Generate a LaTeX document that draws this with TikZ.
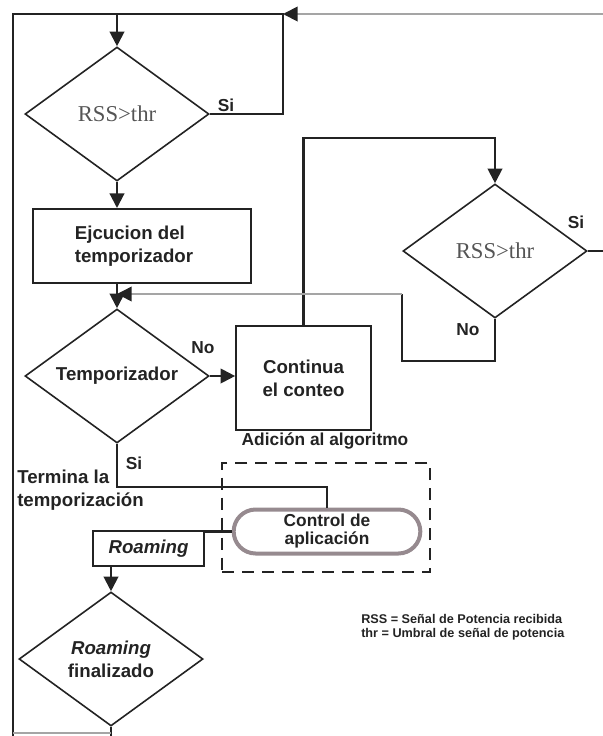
\documentclass[tikz,border=0pt]{standalone}
\usepackage{fontspec}
\setmainfont{Liberation Sans}
\newfontfamily\serifrss{Liberation Serif}
\usetikzlibrary{positioning, shapes.geometric, shapes.misc, arrows.meta}
\definecolor{inkdark}{RGB}{35,35,35}
\definecolor{linegray}{RGB}{165,165,165}
\definecolor{rssgray}{RGB}{85,85,85}
\definecolor{ovalrim}{RGB}{150,138,143}
\tikzset{
  conn/.style={draw=inkdark, line width=1.6pt},
  grayconn/.style={draw=linegray, line width=1.4pt},
  arr/.style={-{Triangle[length=11pt, width=11pt, color=inkdark]}},
  decis/.style={diamond, draw=inkdark, line width=1.2pt, aspect=1.37,
    minimum width=138pt, minimum height=100.5pt, inner sep=1pt, align=center},
  procbox/.style={draw=inkdark, line width=1.5pt, align=center},
  ctrlpill/.style={rounded rectangle, draw=ovalrim, line width=3pt, fill=white,
    minimum width=140pt, minimum height=33pt, inner sep=0pt, align=center},
  dashbox/.style={draw=inkdark, line width=1.5pt, dash pattern=on 9pt off 6pt},
  txt/.style={font=\fontsize{14}{17}\selectfont\bfseries, text=inkdark},
  rsstxt/.style={font=\serifrss\fontsize{17}{20}\selectfont, text=rssgray},
  branchlbl/.style={font=\fontsize{13}{15}\selectfont\bfseries, text=inkdark, inner sep=1pt},
}

\begin{document}
\begin{tikzpicture}[x=0.75pt, y=-0.75pt]
\useasboundingbox (0,0) rectangle (603,736);

% ============================================================ nodes
\node[decis, rsstxt] (rss1) at (117,114) {RSS>thr};
\node[procbox, txt, align=left, minimum width=163.5pt, minimum height=55.5pt] (ejec) at (142,246)
  {Ejcucion del\\temporizador\hspace*{12pt}};
\node[decis, txt] (temp) at (117,376) {Temporizador};
\node[procbox, txt, minimum width=101pt, minimum height=78pt] (cont) at (303.5,378)
  {Continua\\el conteo};
\node[decis, rsstxt] (rss2) at (495,251) {RSS>thr};
\node[ctrlpill, font=\fontsize{13}{13.5}\selectfont\bfseries, text=inkdark] (ctrl) at (327,531.5)
  {Control de\\aplicación};
\node[procbox, txt, font=\fontsize{14}{17}\selectfont\bfseries\itshape, minimum width=83pt, minimum height=26pt] (roam) at (148.5,548.5)
  {Roaming};
\node[decis, txt] (fin) at (111,659) {\textit{Roaming}\\finalizado};

% ============================================================ group
\node[dashbox, minimum width=156pt, minimum height=82pt] (addbox) at (326,517.5) {};
\node[txt, font=\fontsize{13}{15}\selectfont\bfseries] (addlbl) at (325,441) {Adición al algoritmo};

% ============================================================ junctions
\coordinate (lb) at (13,736);
\coordinate (tl) at (13,14);
\coordinate (tj) at (283,14);
\coordinate (tr) at (603,14);
\coordinate (rr) at (603,251);
\coordinate (bl) at (13,733);
\coordinate (ct) at (495,138);
\coordinate (nb) at (402,361);
\coordinate (nt) at (402,294);
\coordinate (sj) at (117,487);

% ============================================================ connectors
\draw[conn, arr] (lb) -- (tl) -| (rss1.north);
\draw[conn] (rss1.east) -| (tj) -- (tj -| rss1.north);
\draw[grayconn, arr] (tr) -- (tj);
\draw[conn, arr] (rss1.south) -- (rss1.south |- ejec.north);
\draw[conn, arr] (temp.north |- ejec.south) -- (temp.north);
\draw[conn, arr] (temp.east) -- (temp.east -| cont.west);
\draw[conn, arr] (cont.north) |- (ct) -- (rss2.north);
\draw[conn] (rss2.east) -- (rr);
\draw[conn] (rss2.south) |- (nb) -- (nt);
\draw[grayconn, line width=1.1pt, arr] (nt) -- (nt -| temp.north);
\draw[conn] (temp.south) -- (sj) -| (ctrl.north);
\draw[conn] (ctrl.west) -- (ctrl.west -| roam.east);
\draw[conn, arr] (roam.south -| fin.north) -- (fin.north);
\draw[conn] (fin.south) -- (fin.south |- lb);
\draw[grayconn, line width=1pt] (bl) -- (bl -| fin.south);

% ============================================================ branch labels
\node[branchlbl] (si1) at (226,105) {Si};
\node[branchlbl] (no2) at (203,348) {No};
\node[branchlbl] (si3) at (576,222) {Si};
\node[branchlbl] (no3) at (468,330) {No};
\node[branchlbl] (si2) at (134,463) {Si};
\node[txt, anchor=west, align=left, inner sep=0pt] (termlbl) at (17,490)
  {Termina la\\temporización};

% ============================================================ legend
\node[anchor=west, align=left, inner sep=0pt, text=inkdark,
  font=\fontsize{9.5}{10.5}\selectfont\bfseries] (legend) at (361,627)
  {RSS = Señal de Potencia recibida\\thr = Umbral de señal de potencia};

\end{tikzpicture}
\end{document}
